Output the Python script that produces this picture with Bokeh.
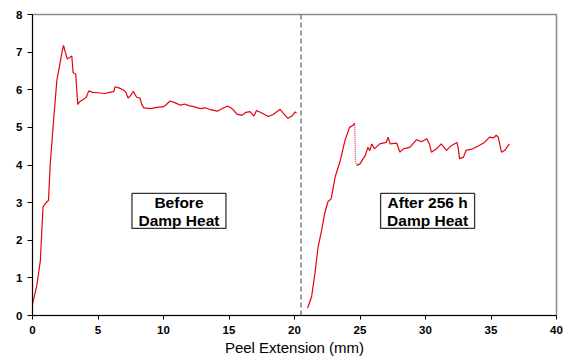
from bokeh.plotting import figure
from bokeh.models import Range1d, FixedTicker, Span
from bokeh.core.properties import value
from bokeh.embed import file_html
from bokeh.resources import INLINE

# ---- data ----
before_x = [0, 0.1, 0.33, 0.6, 0.8, 0.97, 1.22, 1.35, 1.6, 1.86, 2.1, 2.25, 2.37, 2.5, 2.65,
            2.8, 3.0, 3.1, 3.3, 3.38, 3.45, 3.6, 3.9, 4.1, 4.3, 4.6, 5.0, 5.5, 5.9, 6.2,
            6.3, 6.6, 6.9, 7.1, 7.3, 7.5, 7.7, 7.95, 8.2, 8.35, 8.5, 9.0, 9.5, 10.0, 10.2,
            10.5, 10.9, 11.3, 11.6, 12.0, 12.3, 12.8, 13.2, 13.6, 14.1, 14.5, 14.9, 15.3, 15.6,
            16.0, 16.3, 16.6, 16.9, 17.1, 17.5, 18.0, 18.4, 18.9, 19.2, 19.5, 19.8, 20.05, 20.15]
before_y = [0.3, 0.45, 0.8, 1.46, 2.88, 2.97, 3.06, 4.0, 5.15, 6.25, 6.7, 7.0, 7.18, 7.0, 6.82,
            6.85, 6.9, 6.45, 6.42, 6.0, 5.61, 5.68, 5.75, 5.8, 5.97, 5.93, 5.92, 5.9, 5.93, 5.95,
            6.08, 6.05, 6.0, 5.95, 5.78, 5.85, 5.96, 5.8, 5.78, 5.6, 5.52, 5.5, 5.53, 5.55, 5.6,
            5.7, 5.65, 5.59, 5.62, 5.57, 5.55, 5.5, 5.52, 5.47, 5.43, 5.5, 5.57, 5.48, 5.35,
            5.32, 5.4, 5.42, 5.3, 5.45, 5.38, 5.29, 5.35, 5.48, 5.35, 5.24, 5.3, 5.41, 5.38]

after_rise_x = [21.0, 21.3, 21.56, 21.8, 22.07, 22.3, 22.56, 22.8, 23.1, 23.5, 23.85, 24.2, 24.45, 24.6]
after_rise_y = [0.2, 0.49, 1.12, 1.82, 2.26, 2.71, 3.03, 3.1, 3.68, 4.12, 4.65, 5.0, 5.05, 5.11]

after_x = [24.65, 24.75, 25.0, 25.2, 25.4, 25.6, 25.75, 25.9, 26.1, 26.5, 27.0, 27.15, 27.3, 27.8,
           28.05, 28.3, 28.8, 29.3, 29.7, 30.1, 30.3, 30.45, 30.85, 31.2, 31.6, 32.0, 32.4, 32.5,
           32.6, 32.9, 33.1, 33.6, 34.1, 34.5, 34.9, 35.2, 35.4, 35.55, 35.8, 36.05, 36.4]
after_y = [4.1, 3.99, 4.03, 4.15, 4.25, 4.47, 4.38, 4.56, 4.43, 4.56, 4.6, 4.74, 4.56, 4.58,
           4.34, 4.43, 4.47, 4.67, 4.62, 4.7, 4.56, 4.34, 4.43, 4.56, 4.39, 4.52, 4.6, 4.45,
           4.17, 4.21, 4.39, 4.43, 4.52, 4.6, 4.74, 4.72, 4.79, 4.74, 4.34, 4.39, 4.56]

divider_x = 20.5
x_ticks = [0, 5, 10, 15, 20, 25, 30, 35, 40]
y_ticks = [0, 1, 2, 3, 4, 5, 6, 7, 8]
box_labels = [("Before", "Damp Heat"), ("After 256 h", "Damp Heat")]
box_x = [11.18, 30.16]
box_y = [2.78, 2.78]

FONT = "Liberation Sans"
RED = "#e8000b"

p = figure(frame_width=524, frame_height=301, output_backend="svg", toolbar_location=None,
           x_range=Range1d(0, 40), y_range=Range1d(0, 8),
           min_border_left=32, min_border_right=10, min_border_top=14, min_border_bottom=43)
p.background_fill_color = "white"
p.border_fill_color = "white"
p.outline_line_color = "#8c8c8c"
p.outline_line_width = 1.5
p.xgrid.visible = False
p.ygrid.visible = False

for ax, ticks in ((p.xaxis, x_ticks), (p.yaxis, y_ticks)):
    ax.ticker = FixedTicker(ticks=ticks)
    ax.minor_tick_line_color = None
    ax.major_tick_in = 0
    ax.major_tick_out = 5
    ax.axis_line_color = "black"
    ax.major_tick_line_color = "black"
    ax.major_label_text_font = FONT
    ax.major_label_text_font_style = "bold"
    ax.major_label_text_font_size = "11.5px"
    ax.major_label_text_color = "black"
p.xaxis.major_tick_out = 4
p.xaxis.major_label_standoff = 6
p.yaxis.major_label_standoff = 5
p.xaxis.axis_label = "Peel Extension (mm)"
p.xaxis.axis_label_text_font = FONT
p.xaxis.axis_label_text_font_style = "normal"
p.xaxis.axis_label_text_font_size = "15px"
p.xaxis.axis_label_standoff = 2
p.xaxis.axis_label_text_color = "black"

p.add_layout(Span(location=divider_x, dimension="height", line_color="#7a7a7a",
                  line_width=1.5, line_dash="5 3"))

p.line(before_x, before_y, line_color=RED, line_width=1.2)
p.line(after_rise_x, after_rise_y, line_color=RED, line_width=1.2)
p.line([after_rise_x[-1], after_x[0], after_x[1]], [after_rise_y[-1], after_y[0], after_y[1]],
       line_color=RED, line_width=1, line_dash="1 1")
p.line(after_x[1:], after_y[1:], line_color=RED, line_width=1.2)

p.rect(x=box_x, y=box_y, width=94, height=35, width_units="screen", height_units="screen",
       fill_color="white", line_color="#333333", line_width=1.3)
for (l1, l2), bx, by in zip(box_labels, box_x, box_y):
    p.text(x=[bx], y=[by], text=[l1], y_offset=-8, text_align="center", text_baseline="middle",
           text_font=value(FONT), text_font_style="bold", text_font_size="15.5px", text_color="black")
    p.text(x=[bx], y=[by], text=[l2], y_offset=10, text_align="center", text_baseline="middle",
           text_font=value(FONT), text_font_style="bold", text_font_size="15.5px", text_color="black")

open("out.html", "w").write(file_html(p, INLINE))
